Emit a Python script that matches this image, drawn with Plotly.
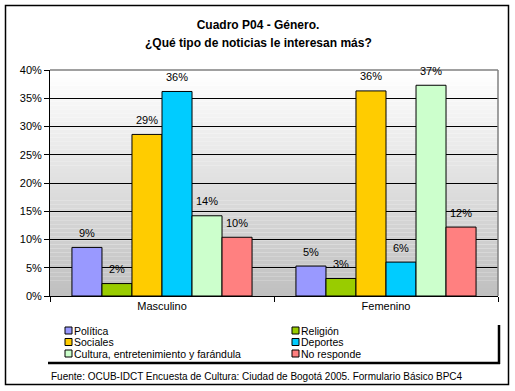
import plotly.graph_objects as go

categories = ["Masculino", "Femenino"]
series_names = ["Política", "Religión", "Sociales", "Deportes",
                "Cultura, entretenimiento y farándula", "No responde"]
politica = [8.6, 5.3]
religion = [2.2, 3.1]
sociales = [28.6, 36.3]
deportes = [36.2, 6.0]
cultura = [14.2, 37.3]
no_responde = [10.4, 12.2]
series_values = [politica, religion, sociales, deportes, cultura, no_responde]
colors = ["#9999FF", "#99CC00", "#FFCC00", "#00CCFF", "#CCFFCC", "#FF8080"]
y_ticks = [0, 5, 10, 15, 20, 25, 30, 35, 40]
y_tick_labels = ["0%", "5%", "10%", "15%", "20%", "25%", "30%", "35%", "40%"]

W, H = 515, 391
L, R, T, B = 50, 498, 70, 296
BARGAP = 0.196
FONT = "Liberation Sans, Arial, sans-serif"


def px(x):
    return (x - L) / (R - L)


def py(y):
    return (B - y) / (B - T)


fig = go.Figure()
n_series = len(series_names)
bar_px = (R - L) / len(categories) * (1 - BARGAP) / n_series
annotations = []
for i, (name, vals, col) in enumerate(zip(series_names, series_values, colors)):
    fig.add_trace(go.Bar(
        x=categories, y=vals, name=name,
        marker=dict(color=col, line=dict(color="black", width=1)),
        showlegend=False,
    ))
    for cat, v in zip(categories, vals):
        annotations.append(dict(
            x=cat, y=v, xref="x", yref="y", text=f"{v:.0f}%", showarrow=False,
            xshift=(i - (n_series - 1) / 2) * bar_px, yshift=14.5,
            xanchor="center", yanchor="middle",
            font=dict(family=FONT, size=11, color="black")))

shapes = []
# gradient background
n = 57
for i in range(n):
    t = i / (n - 1)
    c = int(round(0xC0 + (0xFF - 0xC0) * t))
    shapes.append(dict(type="rect", xref="paper", yref="y", layer="below",
                       x0=0, x1=1, y0=40 * i / n, y1=40 * (i + 1) / n,
                       fillcolor=f"rgb({c},{c},{c})", line=dict(width=0)))
# gray plot border top/right
shapes.append(dict(type="line", xref="paper", yref="paper", x0=0, x1=1, y0=1, y1=1,
                   line=dict(color="#808080", width=1.5)))
shapes.append(dict(type="line", xref="paper", yref="paper", x0=1, x1=1, y0=0, y1=1,
                   line=dict(color="#808080", width=1.5)))
# outer border
shapes.append(dict(type="rect", xref="paper", yref="paper",
                   x0=px(5.5), x1=px(508.5), y0=py(384.5), y1=py(5.5),
                   line=dict(color="black", width=1.5), fillcolor="rgba(0,0,0,0)"))
# legend shadow
shapes.append(dict(type="line", xref="paper", yref="paper",
                   x0=px(48), x1=px(500), y0=py(363), y1=py(363),
                   line=dict(color="black", width=2.5)))
shapes.append(dict(type="line", xref="paper", yref="paper",
                   x0=px(499), x1=px(499), y0=py(325), y1=py(364),
                   line=dict(color="black", width=2.5)))

row_c = [330.5, 342, 353.5]
col_sq = [65, 292]
for i, (name, col) in enumerate(zip(series_names, colors)):
    r, c = i // 2, i % 2
    yc = row_c[r]
    x0 = col_sq[c]
    shapes.append(dict(type="rect", xref="paper", yref="paper",
                       x0=px(x0), x1=px(x0 + 7), y0=py(yc + 3.5), y1=py(yc - 3.5),
                       fillcolor=col, line=dict(color="black", width=1)))
    annotations.append(dict(text=name, xref="paper", yref="paper",
                            x=px(x0 + 9), y=py(yc), xanchor="left", yanchor="middle",
                            showarrow=False, borderpad=0, borderwidth=0,
                            font=dict(family=FONT, size=10.5, color="black")))

annotations.append(dict(
    text="<b>¿Qué tipo de noticias le interesan más?</b>",
    xref="paper", yref="paper", x=px(258), y=py(43), xanchor="center", yanchor="middle",
    showarrow=False, font=dict(family=FONT, size=12, color="black")))
annotations.append(dict(
    text="Fuente: OCUB-IDCT Encuesta de Cultura: Ciudad de Bogotá 2005. Formulario Básico BPC4",
    xref="paper", yref="paper", x=px(49), y=py(376), xanchor="left", yanchor="middle",
    showarrow=False, font=dict(family=FONT, size=10, color="black")))

fig.update_layout(
    width=W, height=H,
    margin=dict(l=L, r=W - R, t=T, b=H - B),
    paper_bgcolor="white", plot_bgcolor="white",
    barmode="group", bargap=BARGAP, bargroupgap=0,
    title=dict(text="<b>Cuadro P04 - Género.</b>",
               x=258 / W, xanchor="center",
               y=1 - 25 / H, yanchor="middle",
               font=dict(family=FONT, size=12, color="black")),
    xaxis=dict(showline=True, linecolor="black", linewidth=1,
               ticks="outside", tickson="boundaries", ticklen=5, tickcolor="black",
               tickfont=dict(family=FONT, size=11, color="black"), showgrid=False),
    yaxis=dict(range=[0, 40], tickmode="array", tickvals=y_ticks, ticktext=y_tick_labels,
               showline=True, linecolor="black", linewidth=1,
               ticks="outside", ticklen=5, tickcolor="black",
               showgrid=True, gridcolor="black", gridwidth=1,
               tickfont=dict(family=FONT, size=11, color="black"), zeroline=False),
    shapes=shapes, annotations=annotations,
    font=dict(family=FONT, color="black"),
)

fig.write_html("out.html", config={"displayModeBar": False},
               post_script="document.body.style.margin='0';document.body.style.padding='0';")
